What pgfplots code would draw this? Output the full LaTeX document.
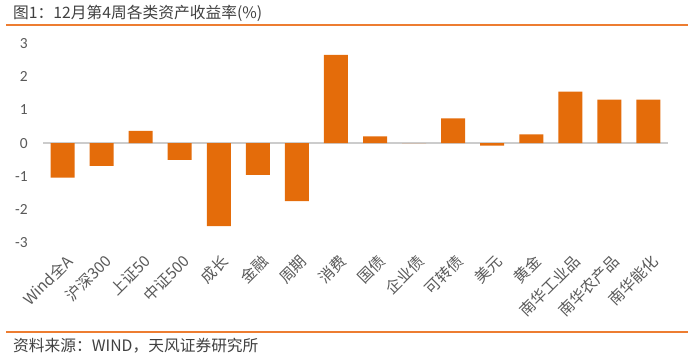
\documentclass[border=0pt]{standalone}
\usepackage{pgfplots}
\pgfplotsset{compat=1.18}
\usepackage{fontspec}
\setmainfont{Carlito}
\newfontfamily\cjk{Noto Sans CJK SC}
\definecolor{barorange}{RGB}{228,108,10}
\definecolor{lineorange}{RGB}{237,125,49}
\definecolor{txtgray}{RGB}{89,89,89}
\definecolor{titlegray}{RGB}{64,64,64}
\begin{document}
\begin{tikzpicture}[x=1bp,y=1bp]
\path[use as bounding box] (0,0) rectangle (688,-357);
\node[anchor=west,font=\cjk\fontsize{15.8}{18}\selectfont,text=titlegray,inner sep=0] at (13,-13) {图1：12月第4周各类资产收益率(\%)};
\draw[lineorange,line width=1.2bp] (6,-25) -- (688,-25);
\draw[lineorange,line width=1.2bp] (6,-332) -- (688,-332);
\node[anchor=west,font=\cjk\fontsize{15.8}{18}\selectfont,text=titlegray,inner sep=0] at (13,-346) {资料来源：WIND，天风证券研究所};
\begin{axis}[
  at={(43bp,-252.6bp)}, anchor=south west,
  scale only axis, width=625bp, height=219.1bp,
  xmin=-0.5, xmax=15.5, ymin=-3.3, ymax=3.3,
  axis line style={draw=none},
  ytick={-3,-2,-1,0,1,2,3},
  yticklabels={-3,-2,-1,0,1,2,3},
  xtick={0,...,15},
  xticklabels={Wind全A,沪深300,上证50,中证500,成长,金融,周期,消费,国债,企业债,可转债,美元,黄金,南华工业品,南华农产品,南华能化},
  major tick length=0pt,
  yticklabel style={font=\fontsize{15.5}{17}\selectfont, text=txtgray, inner sep=0pt, anchor=east, xshift=-15bp},
  xticklabel style={font=\cjk\fontsize{15.5}{17}\selectfont, text=txtgray, rotate=45, anchor=east, inner sep=0pt, xshift=1bp, yshift=-9bp},
  ybar, bar width=24bp,
  clip=false,
]
\draw[gray!40, line width=1.2bp] (axis cs:-0.5,0) -- (axis cs:15.5,0);
\addplot[fill=barorange, draw=none] coordinates {
(0,-1.04) (1,-0.69) (2,0.37) (3,-0.51) (4,-2.50) (5,-0.96) (6,-1.75) (7,2.66)
(8,0.20) (9,0.0) (10,0.74) (11,-0.08) (12,0.26) (13,1.55) (14,1.31) (15,1.31)};
\end{axis}
\end{tikzpicture}
\end{document}
